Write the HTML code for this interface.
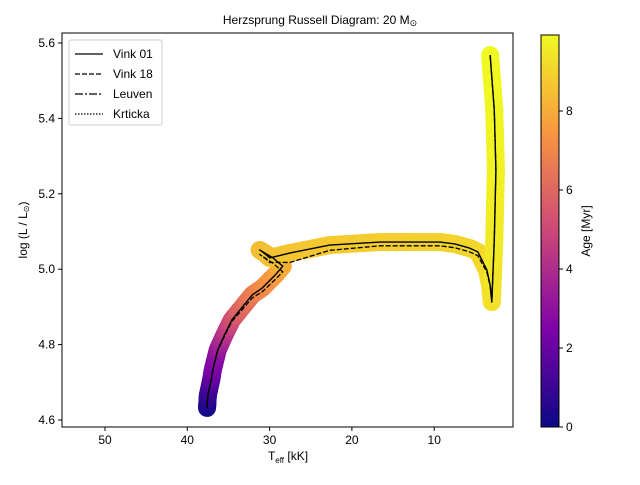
<!DOCTYPE html>
<html><head><meta charset="utf-8"><style>
body{margin:0;background:#fff;font-family:"Liberation Sans",sans-serif}
svg text{font-family:"Liberation Sans",sans-serif;font-size:12px;fill:#000}
</style></head><body>
<svg id="c" width="640" height="480" xmlns="http://www.w3.org/2000/svg">
<defs><linearGradient id="plasma" x1="0" y1="1" x2="0" y2="0">
<stop offset="0" stop-color="#0d0887"/><stop offset="0.25" stop-color="#7e03a8"/><stop offset="0.5" stop-color="#cc4778"/><stop offset="0.75" stop-color="#f89540"/><stop offset="1" stop-color="#f0f921"/></linearGradient></defs>
<text x="320" y="24" text-anchor="middle">Herzsprung Russell Diagram: 20 M<tspan font-size="9" dy="2">⊙</tspan></text>
<g id="plot"></g>
<rect x="62" y="33" width="451" height="394" fill="none" stroke="#000"/>
<text x="288" y="460" text-anchor="middle">T<tspan font-size="8" dy="3">eff</tspan><tspan dy="-3"> [kK]</tspan></text>
<text transform="translate(27,230) rotate(-90)" text-anchor="middle">log (L / L<tspan font-size="8" dy="2">⊙</tspan><tspan dy="-2">)</tspan></text>
<rect x="541" y="35" width="18" height="392" fill="url(#plasma)" stroke="#000"/>
<text transform="translate(590,231) rotate(-90)" text-anchor="middle">Age [Myr]</text>
<g>
<rect x="69" y="40" width="93" height="85" fill="#fff" stroke="#ccc" rx="2"/>
<line x1="75" y1="54" x2="103" y2="54" stroke="#000" stroke-width="1.3"/><text x="113" y="58">Vink 01</text>
<line x1="75" y1="74" x2="103" y2="74" stroke="#000" stroke-width="1.3" stroke-dasharray="5,2"/><text x="113" y="78">Vink 18</text>
<line x1="75" y1="94" x2="103" y2="94" stroke="#000" stroke-width="1.3" stroke-dasharray="8,2,2,2"/><text x="113" y="98">Leuven</text>
<line x1="75" y1="114" x2="103" y2="114" stroke="#000" stroke-width="1.3" stroke-dasharray="1.5,1.5"/><text x="113" y="118">Krticka</text>
</g>
</svg>
<script>
const xTicks=[50,40,30,20,10];
const yTicks=[4.6,4.8,5.0,5.2,5.4,5.6];
const cTicks=[0,2,4,6,8];
const teff=[37.6,37.5,37.1,36.9,36.3,35.5,34.6,33.6,32.1,30.9,29.3,28.4,29.6,31.2,30.5,30.0,27.5,22.7,16.6,9.3,7.5,5.7,4.7,3.6,3.2,3.0,2.7,2.5,2.7,3.2];
const logL=[4.632,4.666,4.706,4.733,4.786,4.825,4.865,4.892,4.932,4.950,4.985,5.008,5.030,5.051,5.040,5.030,5.043,5.064,5.072,5.072,5.067,5.056,5.046,4.998,4.958,4.913,5.077,5.263,5.422,5.568];
const age=[0,0.7,1.5,2.2,3,4,5,5.8,6.5,7.0,7.5,8.0,8.2,8.4,8.45,8.5,8.6,8.7,8.8,8.9,8.95,9.0,9.05,9.1,9.2,9.3,9.5,9.7,9.8,9.9];
const vink18Offset=[0,0,0,0,-0.002,-0.003,-0.004,-0.006,-0.008,-0.01,-0.012,-0.015,-0.014,-0.012,-0.012,-0.012,-0.025,-0.014,-0.01,-0.01,-0.01,-0.01,-0.01,-0.006,-0.003,0,0,0,0,0];
const X=t=>105+(50-t)*8.23, Y=l=>43+(5.6-l)*377, C=a=>427-a*39.5;
const stops=[[13,8,135],[126,3,168],[204,71,120],[248,149,64],[240,249,33]];
function col(a){let f=Math.min(1,Math.max(0,a/9.9))*4,i=Math.min(3,Math.floor(f)),r=f-i;
return 'rgb('+stops[i].map((v,k)=>Math.round(v+(stops[i+1][k]-v)*r)).join(',')+')';}
const svg=document.getElementById('c'),g=document.getElementById('plot'),NS='http://www.w3.org/2000/svg';
function mk(t,a,p){const e=document.createElementNS(NS,t);for(const k in a)e.setAttribute(k,a[k]);(p||g).appendChild(e);return e;}
for(let i=0;i<teff.length-1;i++){const n=6;for(let j=0;j<n;j++){const r0=j/n,r1=(j+1)/n;
const s=mk('line',{x1:X(teff[i]+(teff[i+1]-teff[i])*r0),y1:Y(logL[i]+(logL[i+1]-logL[i])*r0),x2:X(teff[i]+(teff[i+1]-teff[i])*r1),y2:Y(logL[i]+(logL[i+1]-logL[i])*r1),stroke:col(age[i]+(age[i+1]-age[i])*(r0+r1)/2),'stroke-width':18,'stroke-linecap':'round'});

}}
const solid=mk('polyline',{points:teff.map((t,i)=>X(t)+','+Y(logL[i])).join(' '),fill:'none',stroke:'#000','stroke-width':1.4,'stroke-linejoin':'round'});


const dash=mk('polyline',{points:teff.map((t,i)=>X(t)+','+Y(logL[i]+vink18Offset[i])).join(' '),fill:'none',stroke:'#000','stroke-width':1.3,'stroke-dasharray':'5,2','stroke-linejoin':'round'});


xTicks.forEach(t=>{const x=X(t);mk('line',{x1:x,x2:x,y1:427,y2:431,stroke:'#000'},svg);const tx=mk('text',{x:x,y:444,'text-anchor':'middle'},svg);tx.textContent=t;

});
yTicks.forEach(t=>{const y=Y(t);mk('line',{x1:58,x2:62,y1:y,y2:y,stroke:'#000'},svg);const tx=mk('text',{x:55,y:y+4,'text-anchor':'end'},svg);tx.textContent=t.toFixed(1);

});
cTicks.forEach(t=>{const y=C(t);mk('line',{x1:559,x2:563,y1:y,y2:y,stroke:'#000'},svg);const tx=mk('text',{x:566,y:y+4},svg);tx.textContent=t;

});
</script>
</body></html>
